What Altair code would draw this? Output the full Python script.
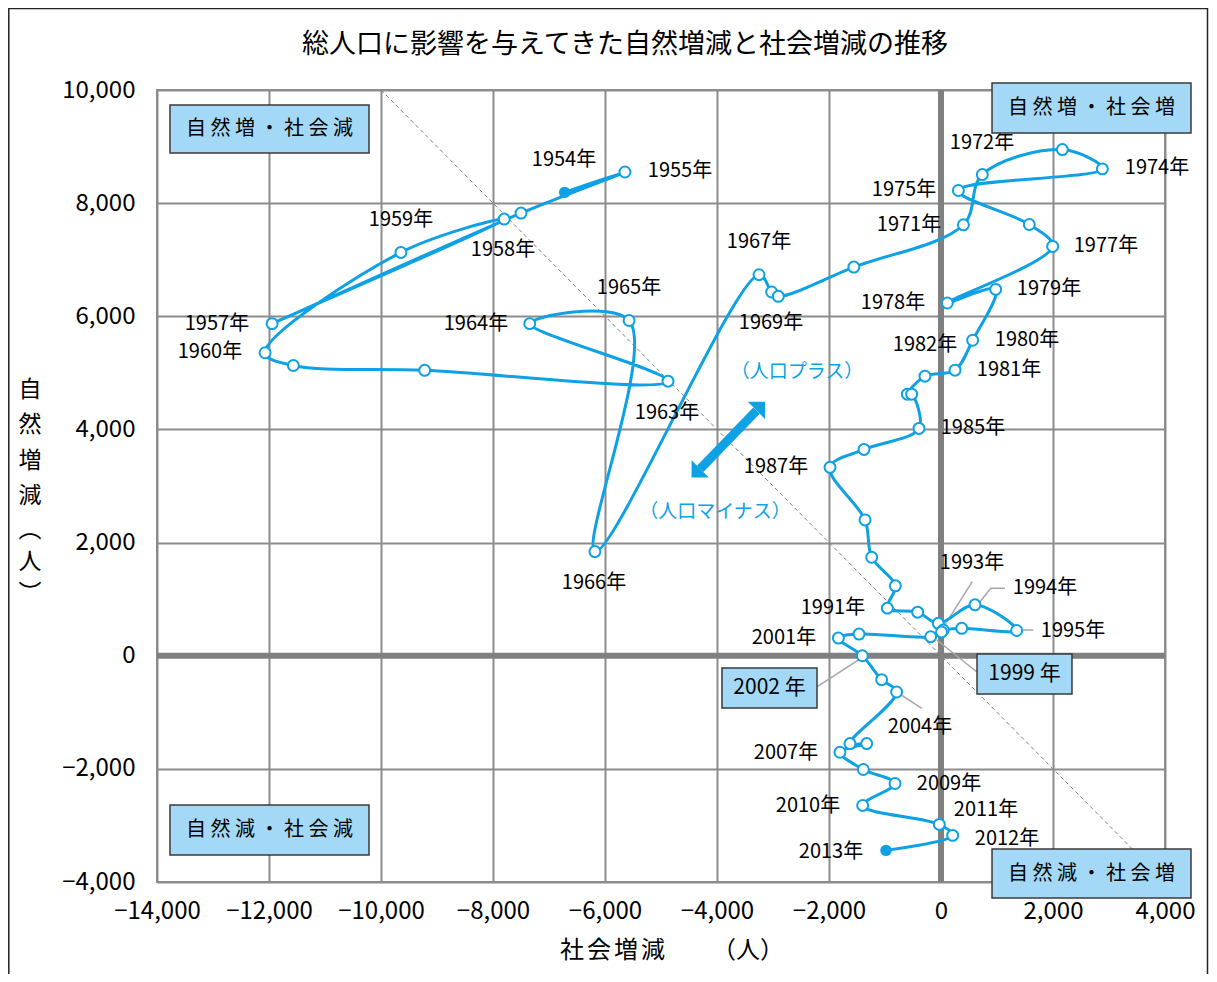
import altair as alt
import pandas as pd

# ---- data: social change (x) and natural change (y), persons ----
years = list(range(1954, 2014))
social = [-6720, -5644, -7500, -11945, -7800, -9644, -12070, -11565, -9220, -4875,
          -7344, -5570, -6180, -3250, -3024, -2905, -1556, 400, 738, 2167,
          2881, 310, 1577, 1994, 113, 976, 565, 250, -286, -601,
          -524, -393, -1375, -1982, -1357, -1238, -815, -958, -417, -48,
          607, 1351, 370, 41, 10, -184, -1464, -1833, -1405, -1060,
          -792, -1625, -1327, -1804, -1387, -821, -1399, -30, 208, -982]
natural = [8190, 8550, 7824, 5870, 7718, 7129, 5355, 5130, 5045, 4853,
           5870, 5925, 1841, 6735, 6429, 6353, 6870, 7617, 8505, 8947,
           8606, 8223, 7623, 7235, 6235, 6476, 5576, 5047, 4941, 4623,
           4623, 4018, 3647, 3330, 2400, 1741, 1235, 841, 770, 573,
           900, 446, 484, 454, 420, 336, 383, 312, 0, -424,
           -641, -1553, -1553, -1706, -2012, -2259, -2647, -2982, -3176, -3441]

# year labels (text and anchor in data units)
label_years = [1954, 1955, 1957, 1958, 1959, 1960, 1963, 1964, 1965, 1966, 1967, 1969,
               1971, 1972, 1974, 1975, 1977, 1978, 1979, 1980, 1981, 1982, 1985, 1987,
               1991, 1993, 1994, 1995, 2001, 2004, 2007, 2009, 2010, 2011, 2012, 2013]
label_x = [-6732, -4661, -12929, -7821, -9643, -13054, -4893, -8304, -5571, -6196, -3250, -3036,
           -571, 732, 3857, -661, 2946, -857, 1929, 1536, 1214, -286, 571, -2946,
           -1929, 554, 1857, 2357, -2804, -375, -2768, 143, -2375, 804, 1179, -1964]
label_y = [8762, 8568, 5863, 7172, 7702, 5369, 4290, 5863, 6500, 1285, 7313, 5881,
           7613, 9063, 8621, 8232, 7242, 6235, 6482, 5581, 5050, 5492, 4025, 3336,
           843, 1639, 1197, 437, 313, -1260, -1720, -2268, -2657, -2735, -3240, -3470]

# boxed annotations
box_text = ["自 然 増 ・ 社 会 減", "自 然 増 ・ 社 会 増", "自 然 減 ・ 社 会 減",
            "自 然 減 ・ 社 会 増", "2002 年", "1999 年"]
box_x1 = [-13768, 911, -13768, 911, -3911, 643]
box_x2 = [-10214, 4464, -10214, 4464, -2214, 2339]
box_y1 = [9735, 10124, -2639, -3417, -217, 30]
box_y2 = [8886, 9240, -3523, -4283, -925, -677]

# leader lines
lead_id = [1, 1, 2, 2, 2, 3, 3, 4, 4, 5, 5, 6, 6]
lead_x = [559, 30, 1143, 888, 684, 1648, 1441, 637, -77, -2209, -1459, -345, -732]
lead_y = [1308, 484, 1191, 1191, 937, 454, 454, -283, 278, -548, -64, -930, -677]

BLUE = "#0ea1e3"
FONT = "Noto Sans CJK JP"
GRID = "#8c8c8c"

W, H = 1008, 792
X0, X1, Y0, Y1 = -14000, 4000, -4000, 10000


def px2x(p):  # page pixel -> data x
    return X0 + (p - 157) / W * (X1 - X0)


def py2y(p):  # page pixel -> data y
    return Y1 - (p - 90) / H * (Y1 - Y0)


SX = alt.Scale(domain=[X0, X1], nice=False, zero=False)
SY = alt.Scale(domain=[Y0, Y1], nice=False, zero=False)
LBL = "format(datum.value, ',')"
AX = alt.Axis(values=list(range(-14000, 4001, 2000)), labelExpr=LBL, title=None, grid=True,
              gridColor=GRID, gridWidth=2, ticks=False, domain=False, labelFontSize=24,
              labelPadding=17, labelColor="black", labelOverlap=False, labelFlush=False)
AY = alt.Axis(values=list(range(-4000, 10001, 2000)), labelExpr=LBL, title=None, grid=True,
              gridColor=GRID, gridWidth=2, ticks=False, domain=False, labelFontSize=24,
              labelPadding=22, labelColor="black", labelOverlap=False, labelFlush=False)


def X(f):
    return alt.X(f, type="quantitative", scale=SX, axis=AX)


def Y(f):
    return alt.Y(f, type="quantitative", scale=SY, axis=AY)


pts = pd.DataFrame({"year": years, "x": social, "y": natural})
pts["end"] = pts["year"].isin([1954, 2013])
labs = pd.DataFrame({"t": [f"{y}年" for y in label_years], "x": label_x, "y": label_y})
boxes = pd.DataFrame({"t": box_text, "x": box_x1, "x2": box_x2, "y": box_y1, "y2": box_y2})
boxes["cx"] = (boxes["x"] + boxes["x2"]) / 2
boxes["cy"] = (boxes["y"] + boxes["y2"]) / 2
boxes["fs"] = [20, 20, 20, 20, 21, 21]
leads = pd.DataFrame({"id": lead_id, "k": range(len(lead_id)), "x": lead_x, "y": lead_y})
one = pd.DataFrame({"a": [0]})

base = alt.Chart(pts)

zero_v = alt.Chart(pd.DataFrame({"x": [0]})).mark_rule(color="#808080", strokeWidth=6).encode(x=X("x"))
zero_h = alt.Chart(pd.DataFrame({"y": [0]})).mark_rule(color="#808080", strokeWidth=6).encode(y=Y("y"))
diag = alt.Chart(pd.DataFrame({"x": [-10000], "y": [10000], "x2": [4000], "y2": [-4000]})).mark_rule(
    color="#7f7f7f", strokeWidth=1, strokeDash=[4, 3]).encode(x=X("x"), y=Y("y"), x2="x2", y2="y2")

leader = alt.Chart(leads).mark_line(color="#a6a6a6", strokeWidth=1.5).encode(
    x=X("x"), y=Y("y"), detail="id:N", order="k:Q")

line = base.mark_line(color=BLUE, strokeWidth=3, interpolate="catmull-rom").encode(
    x=X("x"), y=Y("y"), order="year:Q")
open_pts = alt.Chart(pts[~pts["end"]]).mark_point(
    shape="circle", filled=True, fill="white", stroke=BLUE, strokeWidth=2, size=120, opacity=1).encode(
    x=X("x"), y=Y("y"))
end_pts = alt.Chart(pts[pts["end"]]).mark_point(
    shape="circle", filled=True, color=BLUE, size=130, opacity=1).encode(x=X("x"), y=Y("y"))

labels = alt.Chart(labs).mark_text(fontSize=20, color="black", align="center", baseline="middle").encode(
    x=X("x"), y=Y("y"), text="t:N")

# double-headed arrow
arr = pd.DataFrame({"x": [-4300], "y": [3304], "x2": [-3295], "y2": [4334]})
shaft = alt.Chart(arr).mark_rule(color=BLUE, strokeWidth=9).encode(x=X("x"), y=Y("y"), x2="x2", y2="y2")
head1 = alt.Chart(pd.DataFrame({"x": [-3295], "y": [4334]})).mark_point(
    shape="M 1 -1 L -1 -1 L 1 1 Z", filled=True, color=BLUE, size=300, opacity=1).encode(x=X("x"), y=Y("y"))
head2 = alt.Chart(pd.DataFrame({"x": [-4300], "y": [3304]})).mark_point(
    shape="M -1 1 L 1 1 L -1 -1 Z", filled=True, color=BLUE, size=300, opacity=1).encode(x=X("x"), y=Y("y"))
pm = alt.Chart(pd.DataFrame({"t": ["（人口プラス）", "（人口マイナス）"], "x": [-2571, -4036], "y": [5016, 2540]})).mark_text(
    fontSize=19, color=BLUE, align="center", baseline="middle").encode(x=X("x"), y=Y("y"), text="t:N")

box_r = alt.Chart(boxes).mark_rect(fill="#a3d9f6", stroke="#3a3a3a", strokeWidth=1.5).encode(
    x=X("x"), x2="x2", y=Y("y"), y2="y2")
box_t = alt.Chart(boxes).mark_text(color="black", align="center", baseline="middle").encode(
    x=X("cx"), y=Y("cy"), text="t:N", size=alt.Size("fs:Q", scale=None, legend=None))

# titles
title = alt.Chart(pd.DataFrame({"t": ["総人口に影響を与えてきた自然増減と社会増減の推移"],
                                "x": [px2x(625)], "y": [py2y(45)]})).mark_text(
    fontSize=27, color="black", align="center", baseline="middle").encode(x=X("x"), y=Y("y"), text="t:N")

ychars = ["自", "然", "増", "減", "︵", "人", "︶"]
ychar_py = [390, 425, 461, 496, 530, 562, 594]
ytitle = alt.Chart(pd.DataFrame({"t": ychars, "x": [px2x(30)] * 7, "y": [py2y(p) for p in ychar_py]})).mark_text(
    fontSize=23, color="black", align="center", baseline="middle").encode(x=X("x"), y=Y("y"), text="t:N")

xchars = ["社", "会", "増", "減", "（人）"]
xchar_px = [572, 599, 626, 653, 748]
xtitle = alt.Chart(pd.DataFrame({"t": xchars, "x": [px2x(p) for p in xchar_px], "y": [py2y(951)] * 5})).mark_text(
    fontSize=24, color="black", align="center", baseline="middle").encode(x=X("x"), y=Y("y"), text="t:N")

frame = alt.Chart(one).mark_rect(fill=None, stroke="#222222", strokeWidth=1.5).encode(
    x=alt.value(-148.2), x2=alt.value(1050.5), y=alt.value(-81.5), y2=alt.value(900))

chart = alt.layer(
    zero_v, zero_h, diag, leader, line, open_pts, end_pts, labels,
    shaft, head1, head2, pm, box_r, box_t, title, ytitle, xtitle, frame
).properties(
    width=W, height=H,
    autosize=alt.AutoSizeParams(type="none"),
    padding={"left": 149, "top": 82, "right": 44, "bottom": 92},
).configure(font=FONT).configure_view(stroke=GRID, strokeWidth=2)

chart.save("out.html", embed_options={"renderer": "svg", "actions": False})
